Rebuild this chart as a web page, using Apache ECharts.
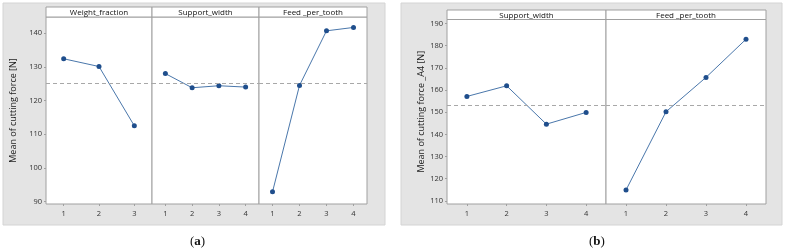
<!DOCTYPE html>
<html>
<head>
<meta charset="utf-8">
<script src="https://cdn.jsdelivr.net/npm/echarts@6/dist/echarts.min.js"></script>
<style>
  html, body { margin: 0; padding: 0; background: #fff; }
  #main { width: 787px; height: 250px; }
</style>
</head>
<body>
<div id="main"></div>
<script>
// panel (a)
var wfCats = ['1', '2', '3'];
var wfVals = [132.4, 130.1, 112.5];
var swCatsA = ['1', '2', '3', '4'];
var swValsA = [128.0, 123.8, 124.4, 124.0];
var fpCatsA = ['1', '2', '3', '4'];
var fpValsA = [92.9, 124.5, 140.7, 141.7];
var meanA = 125.2;
var ticksA = [90, 100, 110, 120, 130, 140];

// panel (b)
var swCatsB = ['1', '2', '3', '4'];
var swValsB = [157.1, 161.9, 144.6, 149.9];
var fpCatsB = ['1', '2', '3', '4'];
var fpValsB = [114.9, 150.2, 165.7, 182.9];
var meanB = 153.2;
var ticksB = [110, 120, 130, 140, 150, 160, 170, 180, 190];

var panelNames = ['Weight_fraction', 'Support_width', 'Feed _per_tooth', 'Support_width', 'Feed _per_tooth'];

// grid boxes [left, right, top, bottom] in px
var boxes = [
  [46, 152, 17, 204],
  [152, 259, 17, 204],
  [259, 367, 17, 204],
  [447, 606, 19.5, 204],
  [606, 766, 19.5, 204]
];
var headerTop = [7, 7, 7, 10, 10];

var cats = [wfCats, swCatsA, fpCatsA, swCatsB, fpCatsB];
var vals = [wfVals, swValsA, fpValsA, swValsB, fpValsB];
var means = [meanA, meanA, meanA, meanB, meanB];
var yRange = [[89.3, 144.8], [89.3, 144.8], [89.3, 144.8], [108.6, 191.8], [108.6, 191.8]];
var showY = [true, false, false, true, false];
var yTicks = [ticksA, ticksA, ticksA, ticksB, ticksB];
var yName = ['Mean of cutting force [N]', '', '', 'Mean of cutting force _A4 [N]', ''];
var yGap = [28, 0, 0, 19, 0];

var font = '"Open Sans", "DejaVu Sans", sans-serif';

var grids = [], xAxes = [], yAxes = [], series = [];
var graphics = [
  { type: 'rect', z: -10, shape: { x: 3, y: 3, width: 382, height: 222 },
    style: { fill: '#e4e4e4', stroke: '#d4d4d4', lineWidth: 1 } },
  { type: 'rect', z: -10, shape: { x: 401, y: 3, width: 381, height: 222 },
    style: { fill: '#e4e4e4', stroke: '#d4d4d4', lineWidth: 1 } }
];

for (var i = 0; i < boxes.length; i++) {
  var b = boxes[i];
  grids.push({
    left: b[0], width: b[1] - b[0], top: b[2], height: b[3] - b[2],
    show: true, backgroundColor: '#fff', borderColor: '#a0a0a0', borderWidth: 1
  });
  xAxes.push({
    type: 'category', gridIndex: i, data: cats[i], boundaryGap: true,
    axisLine: { show: false },
    axisTick: { show: true, alignWithLabel: true, length: 2, inside: false, lineStyle: { color: '#a0a0a0' } },
    axisLabel: { color: '#333', fontSize: 7.5, margin: 6, fontFamily: font },
    splitLine: { show: false }
  });
  yAxes.push({
    type: 'value', gridIndex: i, min: yRange[i][0], max: yRange[i][1],
    name: yName[i], nameLocation: 'middle', nameGap: yGap[i],
    nameTextStyle: { color: '#222', fontSize: 9, fontFamily: font },
    axisLine: { show: false },
    axisTick: { show: showY[i], length: 2, customValues: yTicks[i], lineStyle: { color: '#a0a0a0' } },
    axisLabel: { show: showY[i], color: '#333', fontSize: 7.5, margin: 4, fontFamily: font, customValues: yTicks[i] },
    splitLine: { show: false }
  });
  series.push({
    type: 'line', xAxisIndex: i, yAxisIndex: i, data: vals[i],
    symbol: 'circle', symbolSize: 5,
    itemStyle: { color: '#1f4e8c' },
    lineStyle: { color: '#4a77ab', width: 1 },
    animation: false,
    markLine: {
      silent: true, symbol: 'none', label: { show: false },
      lineStyle: { color: '#a8a8a8', type: [4, 3], width: 1 },
      data: [{ yAxis: means[i] }]
    }
  });
  // header strip
  graphics.push({
    type: 'rect', z: 5,
    shape: { x: b[0], y: headerTop[i], width: b[1] - b[0], height: b[2] - headerTop[i] },
    style: { fill: '#fff', stroke: '#a0a0a0', lineWidth: 1 }
  });
  graphics.push({
    type: 'text', z: 6,
    x: (b[0] + b[1]) / 2, y: (headerTop[i] + b[2]) / 2 + 0.5,
    style: { text: panelNames[i], fill: '#111', fontSize: 8, fontFamily: font, align: 'center', verticalAlign: 'middle' }
  });
}

var richLbl = {
  n: { fontFamily: 'Liberation Serif', fontSize: 13, fontWeight: 'normal', color: '#111' },
  b: { fontFamily: 'Liberation Serif', fontSize: 13, fontWeight: 'bold', color: '#111' }
};

var chartObj = echarts.init(document.getElementById('main'));
chartObj.setOption({
  animation: false,
  backgroundColor: '#fff',
  title: [
    { text: '{n|(}{b|a}{n|)}', left: 185, top: 230, textStyle: { fontWeight: 'normal', rich: richLbl } },
    { text: '{n|(}{b|b}{n|)}', left: 584, top: 230, textStyle: { fontWeight: 'normal', rich: richLbl } }
  ],
  graphic: graphics,
  grid: grids,
  xAxis: xAxes,
  yAxis: yAxes,
  series: series
});
</script>
</body>
</html>
